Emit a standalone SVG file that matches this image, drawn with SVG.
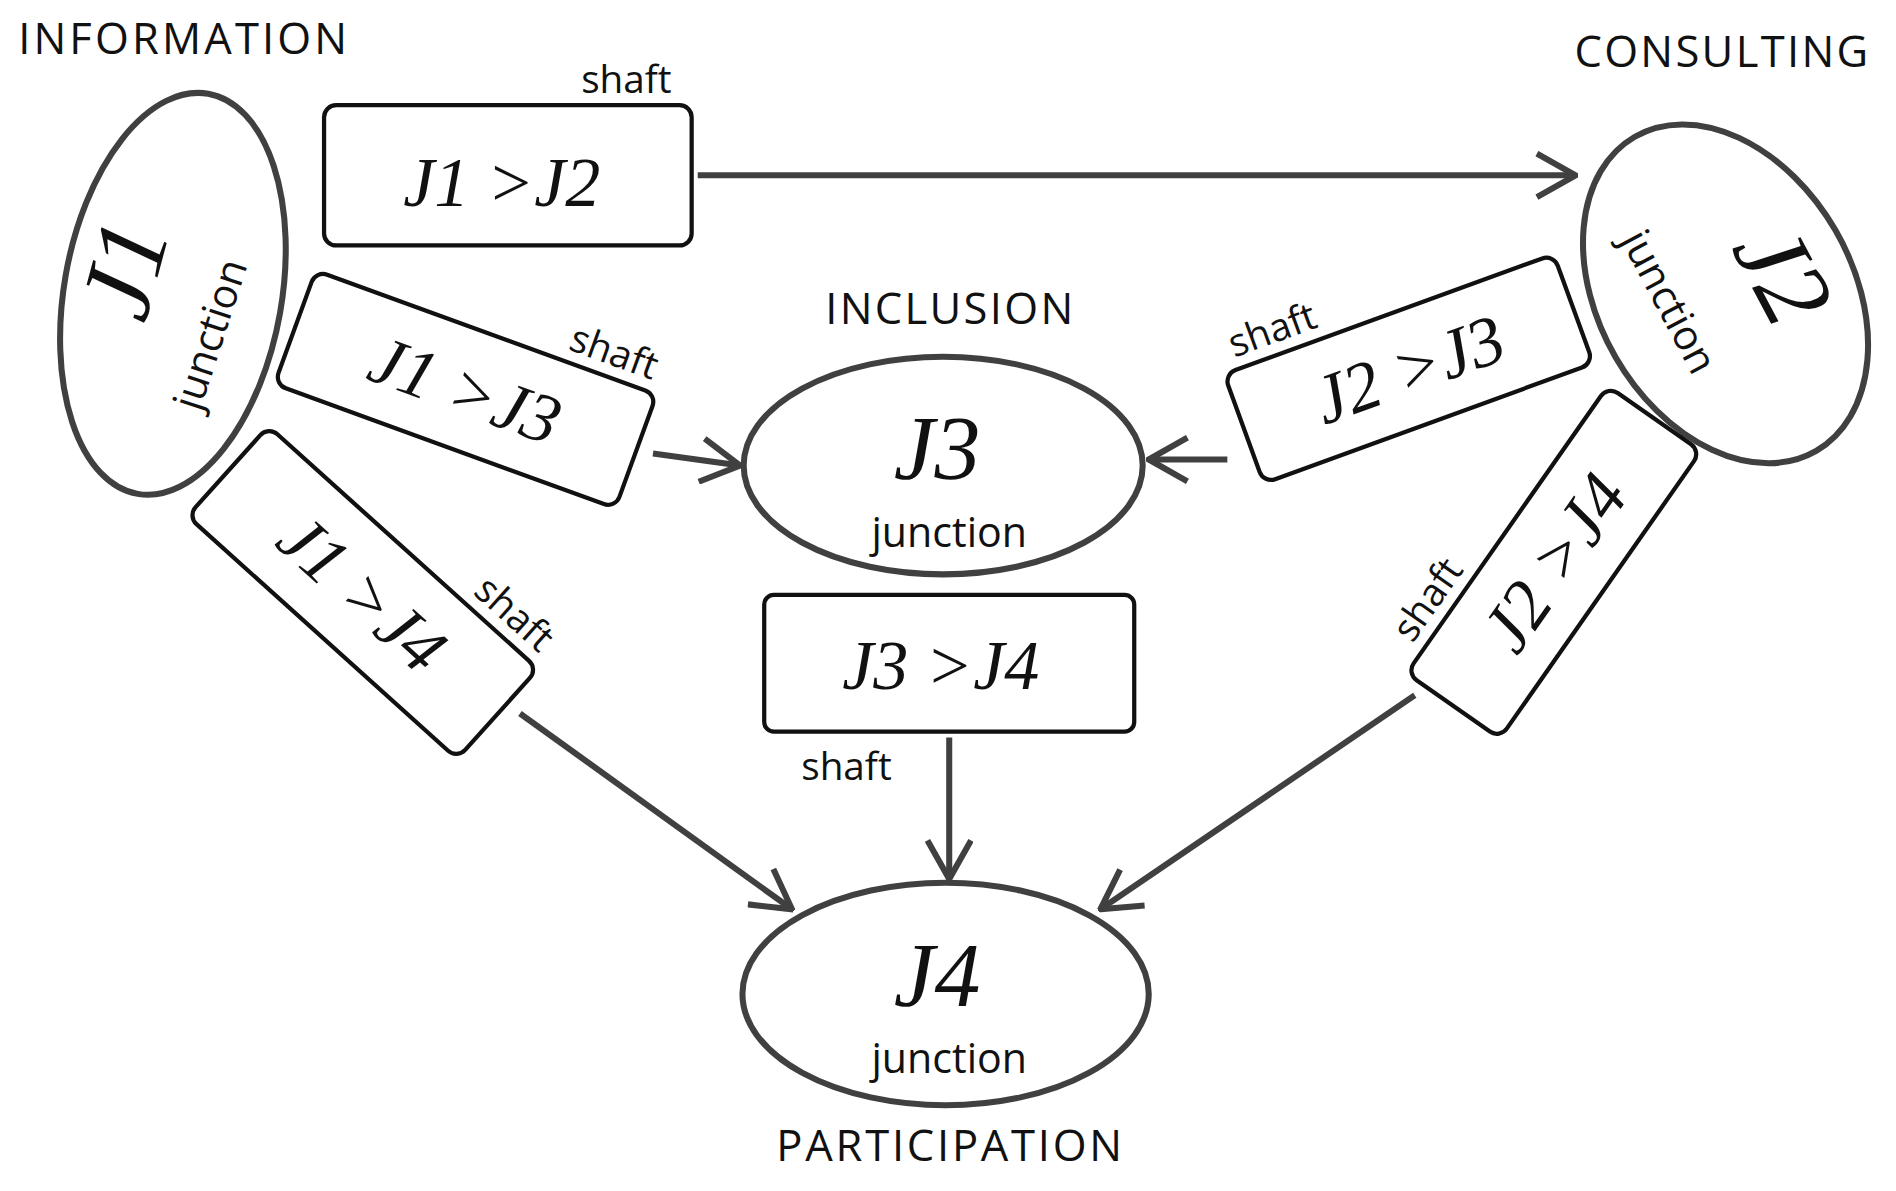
<svg xmlns="http://www.w3.org/2000/svg" width="1896" height="1191" viewBox="0 0 1896 1191">
<style>
.n{fill:none;stroke:#404040;stroke-width:5}
.b{fill:#fff;stroke:#111;stroke-width:3.5}
.c{stroke:#404040;stroke-width:5;fill:none}
.t{font-family:"Open Sans","Liberation Sans",sans-serif;fill:#111}
.s{font-family:"Liberation Serif",serif;font-style:italic;fill:#111}
</style>
<defs>
<marker id="m" viewBox="0 0 40 40" refX="38" refY="20" markerWidth="40" markerHeight="40" orient="auto" markerUnits="userSpaceOnUse"><path d="M6,2 L38,20 L6,38" fill="none" stroke="#404040" stroke-width="5"/></marker></defs>
<rect width="1896" height="1191" fill="#fff"/>
<g transform="scale(1.2092)">
<g id="connectors">
<line class="c" x1="577" y1="145" x2="1303" y2="145" marker-end="url(#m)"/>
<line class="c" x1="540" y1="375" x2="612" y2="385" marker-end="url(#m)"/>
<line class="c" x1="1015" y1="380" x2="950" y2="380" marker-end="url(#m)"/>
<line class="c" x1="430" y1="590" x2="655" y2="752" marker-end="url(#m)"/>
<line class="c" x1="785" y1="610" x2="785" y2="727" marker-end="url(#m)"/>
<line class="c" x1="1170" y1="575" x2="910" y2="752" marker-end="url(#m)"/>
</g>
<g id="info"><text class="t" x="15" y="45" font-size="36" textLength="272">INFORMATION</text></g>
<g id="cons"><text class="t" x="1302" y="55" font-size="36" textLength="243">CONSULTING</text></g>
<g id="J1"><ellipse class="n" cx="143" cy="243" rx="90" ry="168" transform="rotate(10 143 243)"/>
<text class="s" x="130" y="230" font-size="84" text-anchor="middle" transform="rotate(-75 130 230)">J1</text>
<text class="t" x="185" y="280" font-size="34" text-anchor="middle" transform="rotate(-72 185 280)">junction</text></g>
<g id="J2"><ellipse class="n" cx="1427" cy="243" rx="105" ry="150" transform="rotate(-30 1427 243)"/>
<text class="s" x="1450" y="240" font-size="84" text-anchor="middle" transform="rotate(62 1450 240)">J2</text>
<text class="t" x="1370" y="255" font-size="34" text-anchor="middle" transform="rotate(62 1370 255)">junction</text></g>
<g id="J3"><ellipse class="n" cx="780" cy="385" rx="165" ry="90"/>
<text class="t" x="785" y="268" font-size="36" text-anchor="middle" textLength="205">INCLUSION</text>
<text class="s" x="775" y="396" font-size="76" text-anchor="middle">J3</text>
<text class="t" x="785" y="452" font-size="34" text-anchor="middle">junction</text></g>
<g id="J4"><ellipse class="n" cx="782" cy="822" rx="168" ry="92"/>
<text class="s" x="775" y="832" font-size="76" text-anchor="middle">J4</text>
<text class="t" x="785" y="887" font-size="34" text-anchor="middle">junction</text>
<text class="t" x="785" y="960" font-size="36" text-anchor="middle" textLength="286">PARTICIPATION</text></g>
<g id="J1J2"><rect class="b" x="268" y="87" width="304" height="116" rx="10"/>
<text class="s" x="415" y="170" font-size="58" text-anchor="middle">J1 &gt;J2</text>
<text class="t" x="518" y="77" font-size="32" text-anchor="middle">shaft</text></g>
<g id="J1J3" transform="rotate(20 385 322)"><rect class="b" x="235" y="272" width="300" height="100" rx="10"/>
<text class="s" x="385" y="342" font-size="58" text-anchor="middle">J1 &gt;J3</text>
<text class="t" x="490" y="262" font-size="32" text-anchor="middle">shaft</text></g>
<g id="J1J4" transform="rotate(42 300 490)"><rect class="b" x="150" y="440" width="300" height="100" rx="10"/>
<text class="s" x="300" y="510" font-size="58" text-anchor="middle">J1 &gt;J4</text>
<text class="t" x="405" y="430" font-size="32" text-anchor="middle">shaft</text></g>
<g id="J2J3" transform="rotate(-20 1165 305)"><rect class="b" x="1020" y="257" width="290" height="96" rx="10"/>
<text class="s" x="1165" y="325" font-size="58" text-anchor="middle">J2 &gt;J3</text>
<text class="t" x="1070" y="247" font-size="32" text-anchor="middle">shaft</text></g>
<g id="J2J4" transform="rotate(-55 1285 465)"><rect class="b" x="1140" y="418" width="290" height="94" rx="10"/>
<text class="s" x="1285" y="485" font-size="58" text-anchor="middle">J2 &gt;J4</text>
<text class="t" x="1200" y="408" font-size="32" text-anchor="middle">shaft</text></g>
<g id="J3J4"><rect class="b" x="632" y="492" width="306" height="113" rx="8"/>
<text class="s" x="778" y="570" font-size="58" text-anchor="middle">J3 &gt;J4</text>
<text class="t" x="700" y="645" font-size="32" text-anchor="middle">shaft</text></g>
</g>
</svg>
